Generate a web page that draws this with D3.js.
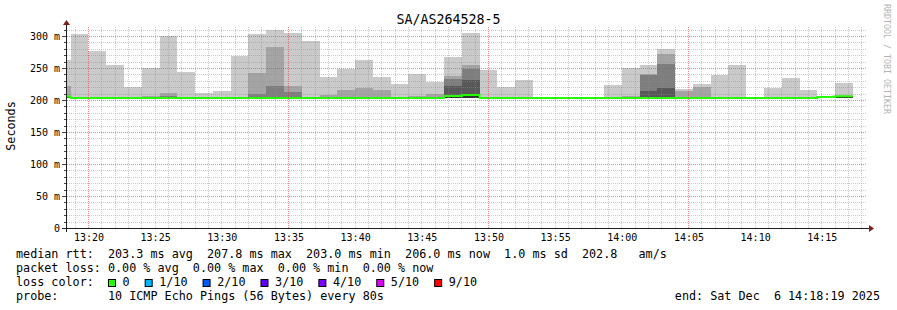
<!DOCTYPE html>
<html><head><meta charset="utf-8">
<script src="https://cdn.jsdelivr.net/npm/d3@7"></script>
<style>
html,body{margin:0;padding:0;background:#fff;}
svg{display:block;}
text{font-family:"DejaVu Sans Mono",monospace;fill:#000;}
</style></head><body>
<svg id="chart" width="897" height="310"></svg>
<script>
// ---------------- data ----------------
const title = "SA/AS264528-5";
const yAxisLabel = "Seconds";
const watermark = "RRDTOOL / TOBI OETIKER";
const rangeStart = "2025-12-06 13:18:19";
const rangeEnd = "2025-12-06 14:18:19";
const firstSlot = "2025-12-06 13:17:20";   // each slot = 80 s (10 pings every 80s)
const slotSeconds = 80;
const yTicks = [0, 50, 100, 150, 200, 250, 300];
const yTickLabels = ["0", "50 m", "100 m", "150 m", "200 m", "250 m", "300 m"];

// sorted ping rtt per slot (ms): highest (p10) ... p6; lowest pings
const p10 = [262.5, 302.6, 276.5, 254.7, 220.0, 249.5, 300.0, 243.7, 211.0, 214.0,
             268.7, 302.6, 309.0, 304.7, 292.0, 236.0, 248.5, 262.5, 236.0, 225.0,
             240.6, 228.0, 267.0, 305.0, 247.0, 220.0, 231.0, 203.0, 203.0, 203.0,
             203.0, 223.4, 250.0, 254.7, 279.7, 217.0, 225.0, 239.0, 254.7, 203.0,
             218.7, 234.0, 215.6, 205.0, 226.6];
const p9  = [222.0, 203.0, 203.0, 203.0, 203.0, 207.0, 211.0, 203.0, 203.0, 203.0,
             203.0, 242.0, 283.0, 222.0, 203.0, 208.0, 215.6, 218.7, 215.6, 203.0,
             207.0, 209.0, 238.0, 255.0, 203.0, 203.0, 203.0, 203.0, 203.0, 203.0,
             203.0, 203.0, 206.0, 240.0, 272.0, 214.0, 220.0, 203.0, 203.0, 203.0,
             203.0, 203.0, 203.0, 205.0, 206.0];
const p8  = [206.0, 203.0, 203.0, 203.0, 203.0, 203.0, 206.0, 203.0, 203.0, 203.0,
             203.0, 209.0, 222.0, 212.5, 203.0, 203.0, 203.0, 203.0, 203.0, 203.0,
             203.0, 203.0, 232.8, 248.4, 203.0, 203.0, 203.0, 203.0, 203.0, 203.0,
             203.0, 203.0, 203.0, 239.0, 256.0, 203.0, 203.0, 203.0, 203.0, 203.0,
             203.0, 203.0, 203.0, 205.0, 206.0];
const p7  = [206.0, 203.0, 203.0, 203.0, 203.0, 203.0, 203.0, 203.0, 203.0, 203.0,
             203.0, 203.0, 203.0, 203.0, 203.0, 203.0, 203.0, 203.0, 203.0, 203.0,
             203.0, 203.0, 222.0, 231.0, 203.0, 203.0, 203.0, 203.0, 203.0, 203.0,
             203.0, 203.0, 203.0, 214.0, 218.7, 203.0, 203.0, 203.0, 203.0, 203.0,
             203.0, 203.0, 203.0, 205.0, 206.0];
const p6  = [206.0, 203.0, 203.0, 203.0, 203.0, 203.0, 203.0, 203.0, 203.0, 203.0,
             203.0, 203.0, 203.0, 203.0, 203.0, 203.0, 203.0, 203.0, 203.0, 203.0,
             203.0, 203.0, 207.5, 209.5, 203.0, 203.0, 203.0, 203.0, 203.0, 203.0,
             203.0, 203.0, 203.0, 203.0, 203.0, 203.0, 203.0, 203.0, 203.0, 203.0,
             203.0, 203.0, 203.0, 204.8, 206.0];
const pLow = [203.0, 203.0, 203.0, 203.0, 203.0, 203.0, 203.0, 203.0, 203.0, 203.0,
             203.0, 203.0, 203.0, 203.0, 203.0, 203.0, 203.0, 203.0, 203.0, 203.0,
             203.0, 203.0, 203.0, 203.0, 203.0, 203.0, 203.0, 203.0, 203.0, 203.0,
             203.0, 203.0, 203.0, 203.0, 203.0, 203.0, 203.0, 203.0, 203.0, 203.0,
             203.0, 203.0, 203.0, 203.0, 203.0];
const median = [205.5, 203.0, 203.0, 203.0, 203.0, 203.0, 203.0, 203.0, 203.0, 203.0,
             203.0, 203.0, 203.0, 203.0, 203.0, 203.0, 203.0, 203.0, 203.0, 203.0,
             203.0, 203.0, 206.2, 207.8, 203.0, 203.0, 203.0, 203.0, 203.0, 203.0,
             203.0, 203.0, 203.0, 203.0, 203.0, 203.0, 203.0, 203.0, 203.0, 203.0,
             203.0, 203.0, 203.0, 204.8, 206.0];

const legendLines = [
  "median rtt:  203.3 ms avg  207.8 ms max  203.0 ms min  206.0 ms now  1.0 ms sd  202.8   am/s",
  "packet loss: 0.00 % avg  0.00 % max  0.00 % min  0.00 % now",
  "loss color:",
  "probe:       10 ICMP Echo Pings (56 Bytes) every 80s"
];
const lossLabels = ["0", "1/10", "2/10", "3/10", "4/10", "5/10", "9/10"];
const lossColors = ["#26ff00", "#00b8ff", "#0059ff", "#5e00ff", "#7e00ff", "#dd00ff", "#ff0000"];
const endLabel = "end: Sat Dec  6 14:18:19 2025";
const smokeColors = ["#cacaca", "#a4a4a4", "#7e7e7e", "#585858", "#323232"];

// ---------------- drawing ----------------
const parse = d3.timeParse("%Y-%m-%d %H:%M:%S");
const t0 = parse(rangeStart), t1 = parse(rangeEnd), s0 = parse(firstSlot);
const svg = d3.select("#chart");
const L = 66, R = 866, B = 228, T = 26;
const x = d3.scaleTime().domain([t0, t1]).range([L, R]);
const y = d3.scaleLinear().domain([0, 315.625]).range([B, T]);

svg.append("defs").append("clipPath").attr("id", "plot")
  .append("rect").attr("x", L).attr("y", T).attr("width", R - L).attr("height", B - T);

const slotTime = i => new Date(s0.getTime() + i * slotSeconds * 1000);
function series(lo, hi) {
  const pts = hi.map((v, i) => ({t: slotTime(i), lo: lo[i], hi: v}));
  const last = pts[pts.length - 1];
  pts.push({t: slotTime(hi.length), lo: last.lo, hi: last.hi});
  return pts;
}
const g = svg.append("g").attr("clip-path", "url(#plot)");
const area = d3.area().x(d => x(d.t)).y0(d => y(d.lo)).y1(d => y(d.hi)).curve(d3.curveStepAfter);
[p10, p9, p8, p7, p6].forEach((hi, i) => {
  g.append("path").datum(series(pLow, hi)).attr("d", area)
    .attr("fill", smokeColors[i]).attr("shape-rendering", "crispEdges");
});

// grid
const minorCol = "rgba(143,143,143,0.48)", majorCol = "rgba(225,60,60,0.62)";
const grid = svg.append("g").attr("shape-rendering", "crispEdges");
const minutes = d3.timeMinute.range(t0, t1);
minutes.forEach(m => {
  const major = m.getMinutes() % 15 === 5;
  const xx = Math.floor(x(m)) + 0.5;
  grid.append("line").attr("x1", xx).attr("x2", xx).attr("y1", B).attr("y2", T)
    .attr("stroke", major ? majorCol : minorCol)
    .attr("stroke-dasharray", "1,1");
});
d3.range(10, 320, 10).forEach(v => {
  const major = v % 50 === 0;
  const yy = Math.round(y(v)) + 0.5;
  if (yy < T) return;
  grid.append("line").attr("x1", L + 1).attr("x2", R).attr("y1", yy).attr("y2", yy)
    .attr("stroke", major ? majorCol : minorCol)
    .attr("stroke-dasharray", "1,1");
  grid.append("line").attr("x1", major ? 62 : 64).attr("x2", L).attr("y1", yy).attr("y2", yy)
    .attr("stroke", "#444");
});

// median line
const line = d3.line().x(d => x(d.t)).y(d => y(d.hi)).curve(d3.curveStepAfter);
g.append("path").datum(series(median, median)).attr("d", line)
  .attr("fill", "none").attr("stroke", lossColors[0]).attr("stroke-width", 2);

// axes
svg.append("line").attr("x1", 62).attr("x2", 869).attr("y1", B + 0.5).attr("y2", B + 0.5).attr("stroke", "#1f1f1f");
svg.append("line").attr("x1", L + 0.5).attr("x2", L + 0.5).attr("y1", 232).attr("y2", 24).attr("stroke", "#1f1f1f");
svg.append("path").attr("d", `M869,225 L869,232 L874,228.5 Z`).attr("fill", "#801f1f");
svg.append("path").attr("d", `M63,25 L70,25 L66.5,20 Z`).attr("fill", "#801f1f");

// y tick labels
yTicks.forEach((v, i) => {
  svg.append("text").attr("x", 60).attr("y", y(v) + 3.6).attr("text-anchor", "end")
    .attr("font-size", "10px").text(yTickLabels[i]);
});
// x tick labels
const xAxis = d3.axisBottom(x).ticks(d3.timeMinute.every(5)).tickFormat(d3.timeFormat("%H:%M")).tickSize(0);
const xa = svg.append("g").attr("transform", `translate(0,${B})`).call(xAxis);
xa.select(".domain").remove();
xa.selectAll("text").attr("font-family", "DejaVu Sans Mono").attr("font-size", "10px")
  .attr("fill", "#000").attr("dy", null).attr("y", 13);

// title
svg.append("text").attr("x", 448.5).attr("y", 24).attr("text-anchor", "middle")
  .attr("font-size", "13.3px").text(title);
// y label
svg.append("text").attr("transform", "translate(15,126) rotate(-90)").attr("text-anchor", "middle")
  .attr("font-size", "11.75px").text(yAxisLabel);
// watermark
svg.append("text").attr("transform", "translate(884,4) rotate(90)")
  .attr("font-size", "8.3px").style("fill", "#b4b4b4").text(watermark);

// legend
const lg = svg.append("g").attr("font-size", "11.75px");
legendLines.forEach((s, i) => {
  lg.append("text").attr("x", 16).attr("y", 258 + i * 14).attr("xml:space", "preserve")
    .style("white-space", "pre").text(s);
});
let lx = 108;
lossLabels.forEach((lab, i) => {
  lg.append("rect").attr("x", lx + 0.5).attr("y", 279.5).attr("width", 7).attr("height", 7)
    .attr("fill", lossColors[i]).attr("stroke", "#000").attr("stroke-width", 1);
  const t = lg.append("text").attr("x", lx + 14.6).attr("y", 286).text(lab);
  lx = lx + 14.6 + t.node().getComputedTextLength() + 15;
});
lg.append("text").attr("x", 880).attr("y", 300).attr("text-anchor", "end")
  .attr("xml:space", "preserve").style("white-space", "pre").text(endLabel);
</script>
</body></html>
